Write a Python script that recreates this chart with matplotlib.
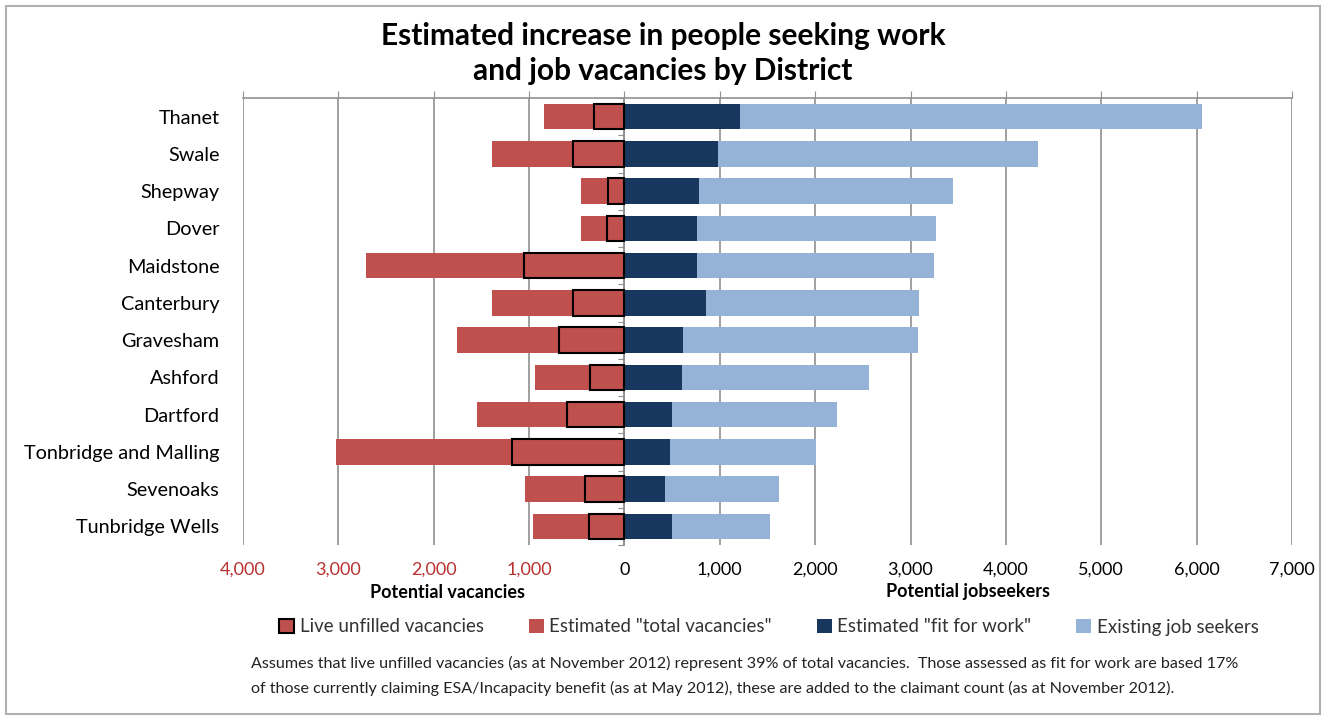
import matplotlib.pyplot as plt
import matplotlib.patches as mpatches
import numpy as np

districts = ["Thanet", "Swale", "Shepway", "Dover", "Maidstone", "Canterbury",
             "Gravesham", "Ashford", "Dartford", "Tonbridge and Malling",
             "Sevenoaks", "Tunbridge Wells"]
total_vacancies = [840, 1390, 460, 460, 2710, 1390, 1760, 935, 1550, 3030, 1040, 955]
live_vacancies = [315, 540, 175, 180, 1050, 540, 685, 365, 600, 1180, 410, 370]
fit_for_work = [1210, 985, 785, 760, 760, 860, 615, 605, 495, 480, 425, 495]
existing_seekers = [4845, 3355, 2665, 2510, 2485, 2225, 2460, 1960, 1730, 1525, 1195, 1030]

xticks = np.arange(-4000, 7001, 1000)
xtick_labels = ["4,000", "3,000", "2,000", "1,000", "0", "1,000", "2,000",
                "3,000", "4,000", "5,000", "6,000", "7,000"]

RED = "#C0504D"
NAVY = "#17375E"
LIGHT = "#95B3D7"
GRID = "#909090"

plt.rcParams['font.family'] = ['Lato', 'DejaVu Sans']

fig = plt.figure(figsize=(13.26, 7.17), dpi=100)
ax = fig.add_axes([243 / 1326, 1 - 545 / 717, 1049 / 1326, 447 / 717])

y = np.arange(len(districts))
h = 0.68

ax.barh(y, -np.array(total_vacancies), height=h, color=RED, zorder=3)
ax.barh(y, -np.array(live_vacancies), height=h, color=RED, edgecolor="black",
        linewidth=1.5, zorder=4)
ax.barh(y, fit_for_work, height=h, color=NAVY, zorder=3)
ax.barh(y, existing_seekers, left=fit_for_work, height=h, color=LIGHT, zorder=3)

ax.set_xlim(-4000, 7000)
ax.set_ylim(len(districts) - 0.5, -0.5)

ax.set_xticks(xticks)
ax.set_xticklabels(xtick_labels, fontsize=13)
for lab, v in zip(ax.get_xticklabels(), xticks):
    lab.set_color("#B8312F" if v < 0 else "black")
ax.tick_params(axis='x', top=True, bottom=False, labeltop=False, labelbottom=True,
               length=5, color=GRID, pad=7)
ax.xaxis.grid(True, color=GRID, linewidth=1.2, zorder=0)

ax.set_yticks(y)
ax.set_yticklabels(districts, fontsize=14.3)
ax.tick_params(axis='y', length=0, pad=17)

for s in ["left", "right", "bottom"]:
    ax.spines[s].set_visible(False)
ax.spines["top"].set_color(GRID)
ax.spines["top"].set_linewidth(1.2)

# zero axis with small category ticks
sec = ax.secondary_yaxis(4000 / 11000)
sec.set_yticks(np.arange(len(districts) + 1) - 0.5)
sec.set_yticklabels([])
sec.tick_params(length=4, color=GRID)
sec.spines["left"].set_color(GRID)
sec.spines["left"].set_linewidth(1.2)

fig.text(0.5, 1 - 36 / 717, "Estimated increase in people seeking work",
         ha="center", va="center", fontsize=21.5, fontweight="bold")
fig.text(0.5, 1 - 71 / 717, "and job vacancies by District",
         ha="center", va="center", fontsize=21.5, fontweight="bold")

fig.text(447 / 1326, 1 - 592 / 717, "Potential vacancies", ha="center", va="center",
         fontsize=13, fontweight="bold")
fig.text(968 / 1326, 1 - 592 / 717, "Potential jobseekers", ha="center", va="center",
         fontsize=13, fontweight="bold")

handles = [
    mpatches.Patch(facecolor=RED, edgecolor="black", linewidth=1.5, label="Live unfilled vacancies"),
    mpatches.Patch(facecolor=RED, label='Estimated "total vacancies"'),
    mpatches.Patch(facecolor=NAVY, label='Estimated "fit for work"'),
    mpatches.Patch(facecolor=LIGHT, label="Existing job seekers"),
]
leg = fig.legend(handles=handles, loc="center", bbox_to_anchor=(769 / 1326, 1 - 627 / 717),
                 ncol=4, frameon=False, fontsize=13.5, handlelength=0.8, handleheight=0.8,
                 handletextpad=0.3, columnspacing=2.4)
for t in leg.get_texts():
    t.set_color("#333333")

fig.text(251 / 1326, 1 - 663 / 717,
         "Assumes that live unfilled vacancies (as at November 2012) represent 39% of total vacancies.  "
         "Those assessed as fit for work are based 17%",
         ha="left", va="center", fontsize=11.6, color="#222222")
fig.text(251 / 1326, 1 - 688 / 717,
         "of those currently claiming ESA/Incapacity benefit (as at May 2012), these are added to the "
         "claimant count (as at November 2012).",
         ha="left", va="center", fontsize=11.6, color="#222222")

fig.patches.append(mpatches.Rectangle((0.0045, 0.004), 0.991, 0.988, transform=fig.transFigure,
                                      fill=False, edgecolor="#b0b0b0", linewidth=1.5))

fig.savefig("out.png", dpi=100)
